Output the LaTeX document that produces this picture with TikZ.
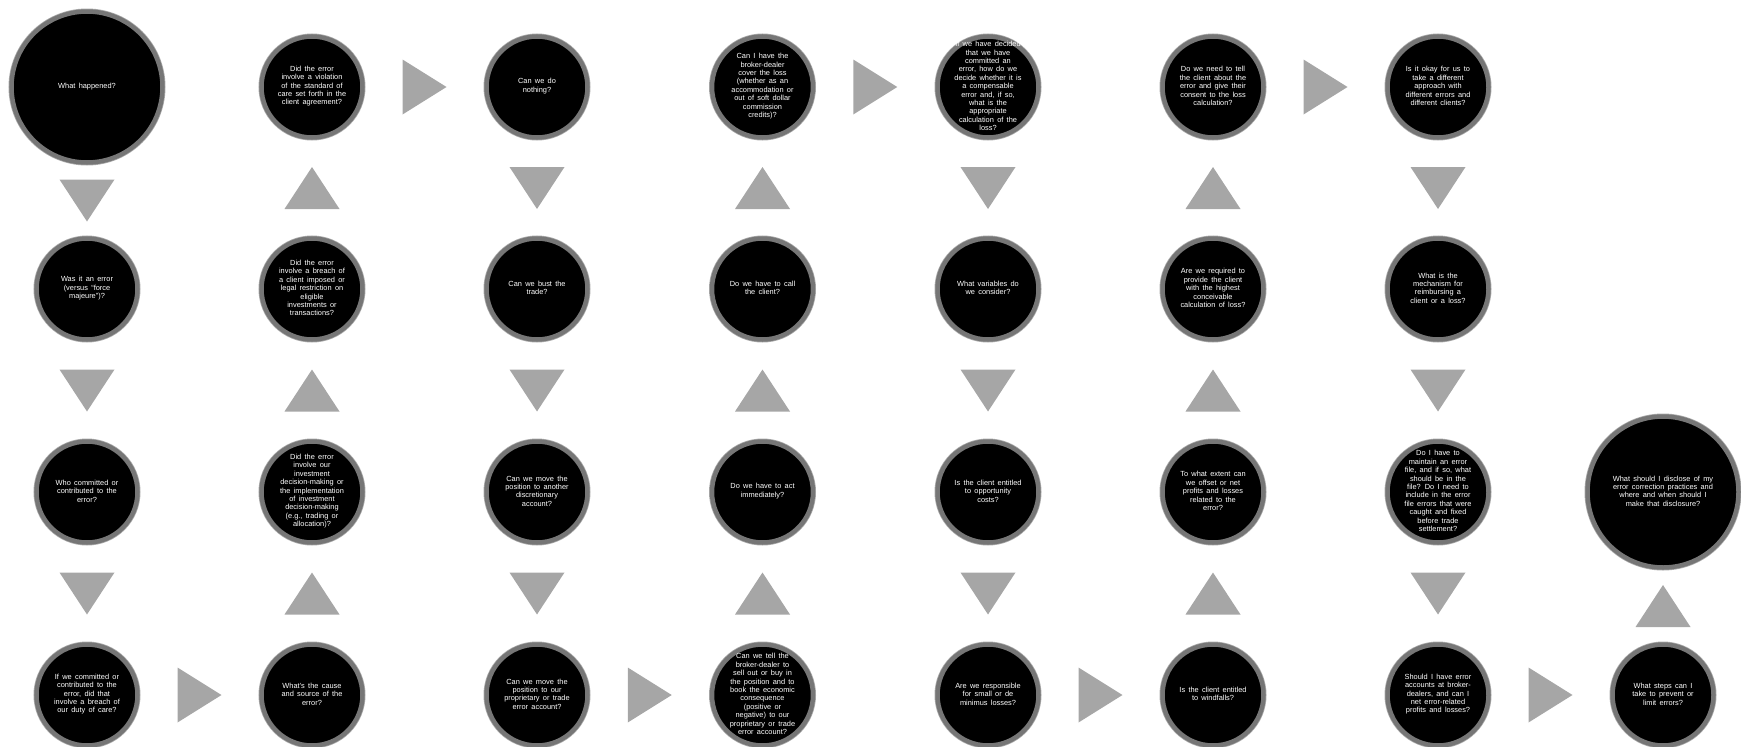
\documentclass[tikz,border=0pt]{standalone}
\usepackage{fontspec}
\setmainfont{Liberation Sans}[WordSpace=1.6]
\usepackage{tikz}
\usetikzlibrary{calc}
\definecolor{ringgray}{RGB}{118,118,118}
\definecolor{ringlight}{RGB}{170,170,170}
\definecolor{trigray}{RGB}{166,166,166}
\newcommand{\qtext}[2][100pt]{\parbox[c][0pt][c]{#1}{\centering #2}}
\tikzset{
  question/.style={circle, fill=black, draw=ringgray, line width=4.5pt,
    preaction={draw=ringlight, line width=6pt},
    minimum size=101pt, inner sep=0pt, text=white,
    font=\fontsize{7.4}{8.4}\selectfont},
  bigquestion/.style={question, minimum size=151pt},
  downtri/.pic={\fill[trigray] (-27.5,-21) -- (27.5,-21) -- (0,21) -- cycle;},
  uptri/.pic={\fill[trigray] (-27.5,21) -- (27.5,21) -- (0,-21) -- cycle;},
  righttri/.pic={\fill[trigray] (-22,-27.5) -- (-22,27.5) -- (22,0) -- cycle;}
}

\begin{document}
\begin{tikzpicture}[x=1pt, y=-1pt]
  \useasboundingbox (0,0) rectangle (1741,747);
  % column 1
  \node[bigquestion] (c1r1) at (87,87) {\qtext[110pt]{What happened?}};
  \node[question] (c1r2) at (87,289) {\qtext{Was it an error\\(versus “force\\majeure”)?}};
  \node[question] (c1r3) at (87,492) {\qtext{Who committed or\\contributed to the\\error?}};
  \node[question] (c1r4) at (87,695) {\qtext{If we committed or\\contributed to the\\error, did that\\involve a breach of\\our duty of care?}};
  % column 2
  \node[question] (c2r1) at (312,87) {\qtext{Did the error\\involve a violation\\of the standard of\\care set forth in the\\client agreement?}};
  \node[question] (c2r2) at (312,289) {\qtext{Did the error\\involve a breach of\\a client imposed or\\legal restriction on\\eligible\\investments or\\transactions?}};
  \node[question] (c2r3) at (312,492) {\qtext{Did the error\\involve our\\investment\\decision-making or\\the implementation\\of investment\\decision-making\\(e.g., trading or\\allocation)?}};
  \node[question] (c2r4) at (312,695) {\qtext{What’s the cause\\and source of the\\error?}};
  % column 3
  \node[question] (c3r1) at (537,87) {\qtext{Can we do\\nothing?}};
  \node[question] (c3r2) at (537,289) {\qtext{Can we bust the\\trade?}};
  \node[question] (c3r3) at (537,492) {\qtext{Can we move the\\position to another\\discretionary\\account?}};
  \node[question] (c3r4) at (537,695) {\qtext{Can we move the\\position to our\\proprietary or trade\\error account?}};
  % column 4
  \node[question] (c4r1) at (762.5,87) {\qtext{Can I have the\\broker-dealer\\cover the loss\\(whether as an\\accommodation or\\out of soft dollar\\commission\\credits)?}};
  \node[question] (c4r2) at (762.5,289) {\qtext{Do we have to call\\the client?}};
  \node[question] (c4r3) at (762.5,492) {\qtext{Do we have to act\\immediately?}};
  \node[question] (c4r4) at (762.5,695) {\qtext{Can we tell the\\broker-dealer to\\sell out or buy in\\the position and to\\book the economic\\consequence\\(positive or\\negative) to our\\proprietary or trade\\error account?}};
  % column 5
  \node[question] (c5r1) at (988,87) {\qtext{If we have decided\\that we have\\committed an\\error, how do we\\decide whether it is\\a compensable\\error and, if so,\\what is the\\appropriate\\calculation of the\\loss?}};
  \node[question] (c5r2) at (988,289) {\qtext{What variables do\\we consider?}};
  \node[question] (c5r3) at (988,492) {\qtext{Is the client entitled\\to opportunity\\costs?}};
  \node[question] (c5r4) at (988,695) {\qtext{Are we responsible\\for small or de\\minimus losses?}};
  % column 6
  \node[question] (c6r1) at (1213,87) {\qtext{Do we need to tell\\the client about the\\error and give their\\consent to the loss\\calculation?}};
  \node[question] (c6r2) at (1213,289) {\qtext{Are we required to\\provide the client\\with the highest\\conceivable\\calculation of loss?}};
  \node[question] (c6r3) at (1213,492) {\qtext{To what extent can\\we offset or net\\profits and losses\\related to the\\error?}};
  \node[question] (c6r4) at (1213,695) {\qtext{Is the client entitled\\to windfalls?}};
  % column 7
  \node[question] (c7r1) at (1438,87) {\qtext{Is it okay for us to\\take a different\\approach with\\different errors and\\different clients?}};
  \node[question] (c7r2) at (1438,289) {\qtext{What is the\\mechanism for\\reimbursing a\\client or a loss?}};
  \node[question] (c7r3) at (1438,492) {\qtext{Do I have to\\maintain an error\\file, and if so, what\\should be in the\\file? Do I need to\\include in the error\\file errors that were\\caught and fixed\\before trade\\settlement?}};
  \node[question] (c7r4) at (1438,695) {\qtext{Should I have error\\accounts at broker-\\dealers, and can I\\net error-related\\profits and losses?}};
  % column 8
  \node[bigquestion] (c8r3) at (1663,492) {\qtext[115pt]{What should I disclose of my\\error correction practices and\\where and when should I\\make that disclosure?}};
  \node[question] (c8r4) at (1663,695) {\qtext{What steps can I\\take to prevent or\\limit errors?}};

  % arrows down / up
  \pic at ($(c1r1.south)!0.5!(c1r2.north)$) {downtri};
  \pic at ($(c1r2.south)!0.5!(c1r3.north)$) {downtri};
  \pic at ($(c1r3.south)!0.5!(c1r4.north)$) {downtri};
  \pic at ($(c2r1.south)!0.5!(c2r2.north)$) {uptri};
  \pic at ($(c2r2.south)!0.5!(c2r3.north)$) {uptri};
  \pic at ($(c2r3.south)!0.5!(c2r4.north)$) {uptri};
  \pic at ($(c3r1.south)!0.5!(c3r2.north)$) {downtri};
  \pic at ($(c3r2.south)!0.5!(c3r3.north)$) {downtri};
  \pic at ($(c3r3.south)!0.5!(c3r4.north)$) {downtri};
  \pic at ($(c4r1.south)!0.5!(c4r2.north)$) {uptri};
  \pic at ($(c4r2.south)!0.5!(c4r3.north)$) {uptri};
  \pic at ($(c4r3.south)!0.5!(c4r4.north)$) {uptri};
  \pic at ($(c5r1.south)!0.5!(c5r2.north)$) {downtri};
  \pic at ($(c5r2.south)!0.5!(c5r3.north)$) {downtri};
  \pic at ($(c5r3.south)!0.5!(c5r4.north)$) {downtri};
  \pic at ($(c6r1.south)!0.5!(c6r2.north)$) {uptri};
  \pic at ($(c6r2.south)!0.5!(c6r3.north)$) {uptri};
  \pic at ($(c6r3.south)!0.5!(c6r4.north)$) {uptri};
  \pic at ($(c7r1.south)!0.5!(c7r2.north)$) {downtri};
  \pic at ($(c7r2.south)!0.5!(c7r3.north)$) {downtri};
  \pic at ($(c7r3.south)!0.5!(c7r4.north)$) {downtri};
  \pic at ($(c8r3.south)!0.5!(c8r4.north)$) {uptri};
  % arrows right
  \pic at ($(c1r4.east)!0.5!(c2r4.west)$) {righttri};
  \pic at ($(c2r1.east)!0.5!(c3r1.west)$) {righttri};
  \pic at ($(c3r4.east)!0.5!(c4r4.west)$) {righttri};
  \pic at ($(c4r1.east)!0.5!(c5r1.west)$) {righttri};
  \pic at ($(c5r4.east)!0.5!(c6r4.west)$) {righttri};
  \pic at ($(c6r1.east)!0.5!(c7r1.west)$) {righttri};
  \pic at ($(c7r4.east)!0.5!(c8r4.west)$) {righttri};
\end{tikzpicture}
\end{document}
